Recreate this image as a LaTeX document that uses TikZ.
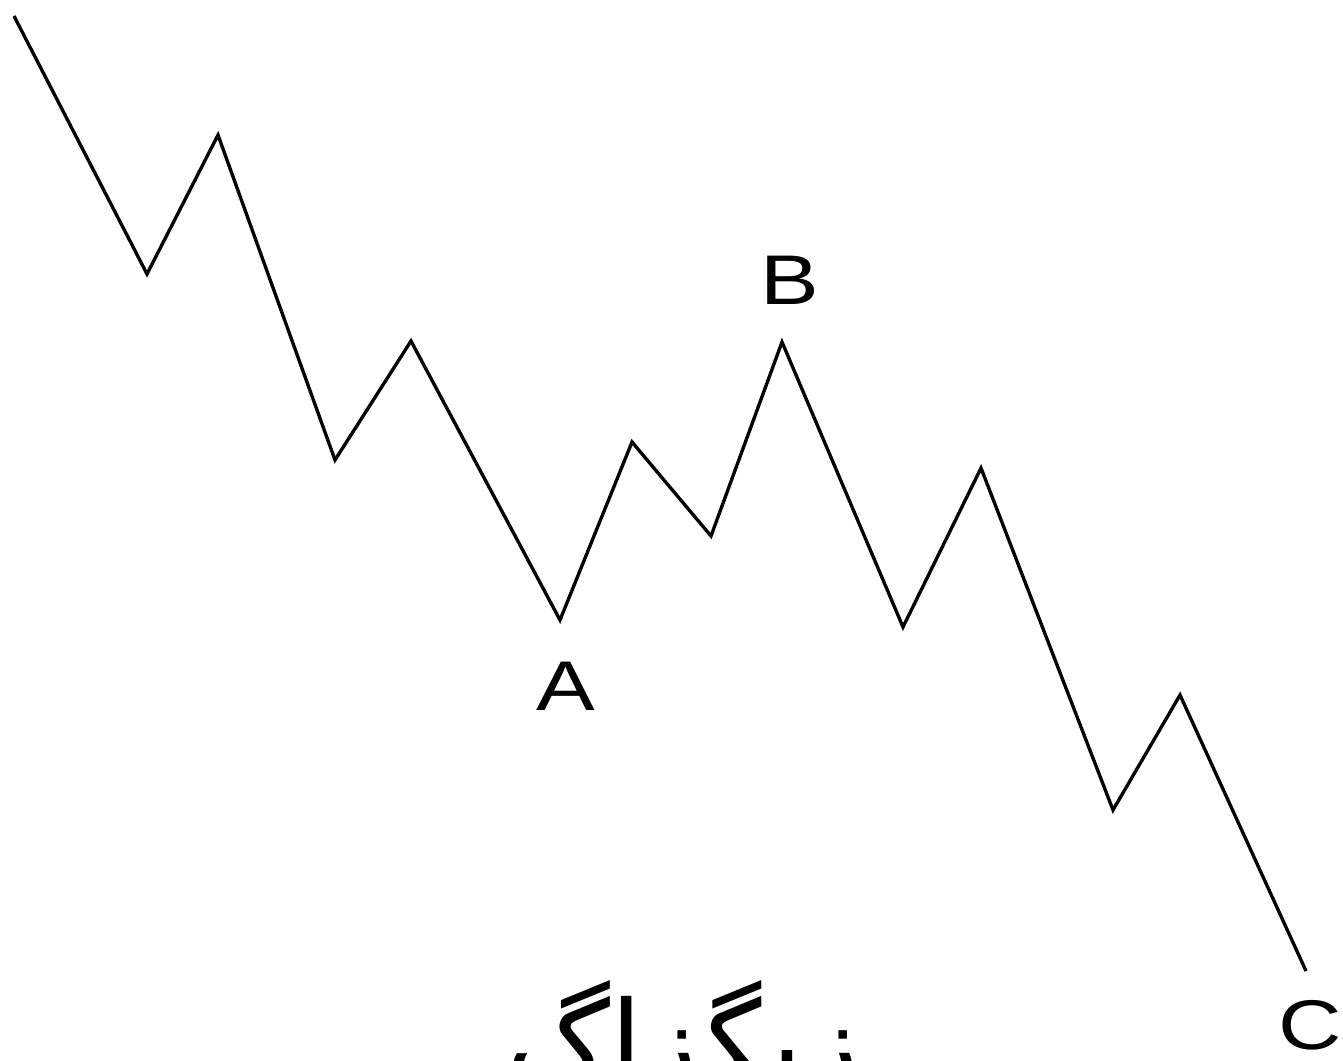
\documentclass[tikz,border=0pt]{standalone}
\usepackage{fontspec}
\setmainfont{Liberation Sans}
\newfontfamily\persianfont[Script=Arabic]{DejaVu Sans}
\TeXXeTstate=1
\usepackage{tikz}
\usetikzlibrary{positioning}

\begin{document}
\begin{tikzpicture}[
  x=0.01cm, y=-0.01cm,
  every node/.style={inner sep=0pt},
  wave/.style={line width=0.95pt, line join=miter, black},
  lbl/.style={font=\fontsize{20}{24}\selectfont, xscale=1.25, transform shape},
  fa/.style={font=\persianfont\fontsize{33}{38}\selectfont, anchor=base}
]
\useasboundingbox (0,0) rectangle (1343,1060);

% --- Turning points of the zigzag (pixel grid, y down) ---
\coordinate (p0)  at (14,16);
\coordinate (p1)  at (147,274);
\coordinate (p2)  at (218,135);
\coordinate (p3)  at (335,460);
\coordinate (p4)  at (411,341);
\coordinate (pA)  at (560,620);
\coordinate (p6)  at (632,442);
\coordinate (p7)  at (711,536);
\coordinate (pB)  at (782,342);
\coordinate (p9)  at (903,627);
\coordinate (p10) at (981,468);
\coordinate (p11) at (1113,810);
\coordinate (p12) at (1180,695);
\coordinate (pC)  at (1306,971);

% --- Price path ---
\draw[wave] (p0) -- (p1) -- (p2) -- (p3) -- (p4) -- (pA) -- (p6) -- (p7)
            -- (pB) -- (p9) -- (p10) -- (p11) -- (p12) -- (pC);

% --- Point labels ---
\node[lbl] (labA) at (566,686) {A};
\node[lbl] (labB) at (790,280) {B};
\node[lbl] (labC) at (1310,1025) {C};

% --- Caption, cut by the lower edge ---
\node[fa] (title) at (683,1084) {\beginR زیگزاگ\endR};
\end{tikzpicture}
\end{document}
